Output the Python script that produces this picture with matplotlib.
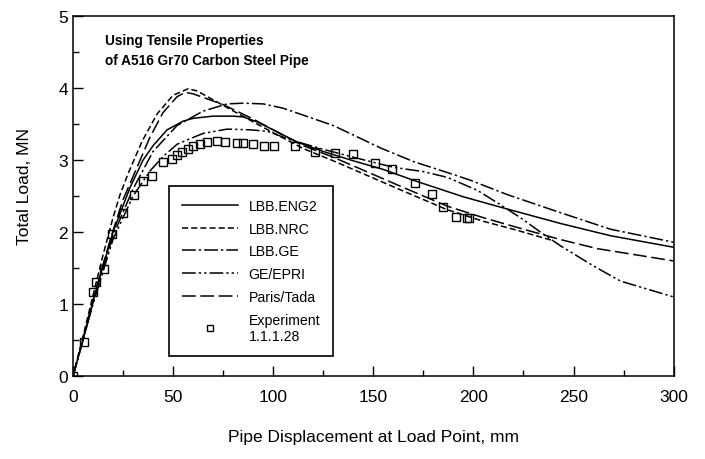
import numpy as np
import matplotlib
matplotlib.use("Agg")
from matplotlib import pyplot as plt
from matplotlib.ticker import MultipleLocator

plt.rcParams['font.family'] = ['Liberation Sans', 'DejaVu Sans']

# load-displacement predictions (mm, MN)
eng2_x = [0, 5, 10, 20, 28.5, 35, 40, 47, 55, 60, 70, 80, 85, 92, 100, 112, 125, 140, 155,
          170, 195, 217, 243.5, 268.5, 300]
eng2_y = [0, 0.5, 1.05, 2.0, 2.62, 3.0, 3.2, 3.42, 3.54, 3.58, 3.61, 3.61, 3.6, 3.53, 3.42,
          3.25, 3.12, 2.99, 2.87, 2.72, 2.49, 2.32, 2.12, 1.95, 1.79]

nrc_x = [0, 5, 10, 15, 20, 23.5, 27.5, 34.5, 42, 50, 57.5, 62, 75, 90, 100, 115, 130, 150,
         165, 187, 205, 220, 240]
nrc_y = [0, 0.55, 1.12, 1.68, 2.2, 2.52, 2.81, 3.26, 3.64, 3.9, 3.99, 3.96, 3.76, 3.53, 3.38,
         3.16, 2.99, 2.75, 2.57, 2.31, 2.15, 2.04, 1.88]

ge_x = [0, 5, 10, 20, 30, 40, 52, 65, 77, 85, 95, 105, 130, 153.5, 170, 190, 198.5, 217,
        243.5, 268.5, 300]
ge_y = [0, 0.5, 1.02, 1.95, 2.6, 3.12, 3.48, 3.68, 3.78, 3.79, 3.78, 3.72, 3.48, 3.17, 2.98,
        2.8, 2.72, 2.52, 2.27, 2.04, 1.86]

epri_x = [0, 5, 10, 20, 30, 38.5, 45, 52, 57, 65, 77, 88.5, 97, 110, 125, 140, 160, 175,
          187, 202, 213.5, 223.5, 233.5, 243.5, 260, 273.5, 300]
epri_y = [0, 0.5, 1.0, 1.9, 2.5, 2.85, 3.05, 3.22, 3.28, 3.37, 3.43, 3.42, 3.4, 3.27, 3.15,
          3.04, 2.9, 2.84, 2.76, 2.58, 2.38, 2.2, 2.0, 1.81, 1.53, 1.32, 1.1]

tada_x = [0, 5, 10, 15, 20, 25, 32, 38.5, 45, 52, 56, 60, 75, 90, 100, 115, 130, 150, 165,
          187, 205, 220, 243, 262, 280, 300]
tada_y = [0, 0.52, 1.05, 1.55, 2.02, 2.45, 2.9, 3.32, 3.66, 3.88, 3.94, 3.92, 3.77, 3.57,
          3.42, 3.2, 3.04, 2.8, 2.62, 2.36, 2.2, 2.08, 1.9, 1.77, 1.69, 1.6]

# experiment 1.1.1.28
exp_x = [0, 5.3, 9.8, 11.5, 15.7, 19.5, 25, 30.5, 35, 39.3, 45, 49.3, 51.8, 54.3, 57.5, 60,
         63.5, 66.8, 71.8, 76, 81.8, 85, 90, 95.5, 100.5, 111, 121, 131, 140, 151, 159.5,
         171, 179.5, 185, 191.5, 197, 198]
exp_y = [0, 0.48, 1.17, 1.31, 1.49, 1.97, 2.26, 2.51, 2.71, 2.78, 2.97, 3.01, 3.07, 3.11,
         3.15, 3.2, 3.22, 3.25, 3.27, 3.25, 3.24, 3.24, 3.22, 3.19, 3.19, 3.19, 3.11, 3.1,
         3.08, 2.96, 2.88, 2.68, 2.53, 2.35, 2.21, 2.19, 2.19]

fig = plt.figure(figsize=(7.05, 4.6), dpi=100)
ax = fig.add_axes([0.1035, 0.180, 0.852, 0.783])

lw = 1.1
ax.plot(eng2_x, eng2_y, color='black', lw=lw, label='LBB.ENG2')
ax.plot(nrc_x, nrc_y, color='black', lw=lw, dashes=(4, 2), label='LBB.NRC')
ax.plot(ge_x, ge_y, color='black', lw=lw, dashes=(9, 2, 1.5, 2), label='LBB.GE')
ax.plot(epri_x, epri_y, color='black', lw=lw, dashes=(9, 2, 1.5, 2, 1.5, 2), label='GE/EPRI')
ax.plot(tada_x, tada_y, color='black', lw=lw, dashes=(9, 3), label='Paris/Tada')
ax.plot(exp_x, exp_y, ls='none', marker='s', ms=5.5, mfc='none', mec='black', mew=1.0,
        label='Experiment\n1.1.1.28')

ax.set_xlim(0, 300)
ax.set_ylim(0, 5)
ax.xaxis.set_major_locator(MultipleLocator(50))
ax.xaxis.set_minor_locator(MultipleLocator(25))
ax.yaxis.set_major_locator(MultipleLocator(1))
ax.yaxis.set_minor_locator(MultipleLocator(0.5))
ax.tick_params(which='both', direction='in', top=False, right=False, labelsize=12.5)
ax.tick_params(which='major', length=7, width=1)
ax.tick_params(which='minor', length=4, width=1)
ax.tick_params(axis='x', pad=9)
for s in ax.spines.values():
    s.set_linewidth(1.1)

ax.set_xlabel('Pipe Displacement at Load Point, mm', fontsize=12.5, labelpad=18)
ax.set_ylabel('Total Load, MN', fontsize=12.5)
ax.yaxis.set_label_coords(-0.068, 0.53)

ax.text(16, 4.53, 'Using Tensile Properties\nof A516 Gr70 Carbon Steel Pipe',
        fontsize=9.8, fontweight='bold', va='center', linespacing=1.55)

leg = ax.legend(loc='upper left', bbox_to_anchor=(0.16, 0.528), borderaxespad=0,
                fontsize=10.2, handlelength=4.0, fancybox=False, framealpha=1,
                edgecolor='black', labelspacing=0.62, borderpad=0.9, handletextpad=0.7,
                markerscale=0.85)
leg.get_frame().set_linewidth(1.2)

fig.savefig('out.png', dpi=100)
